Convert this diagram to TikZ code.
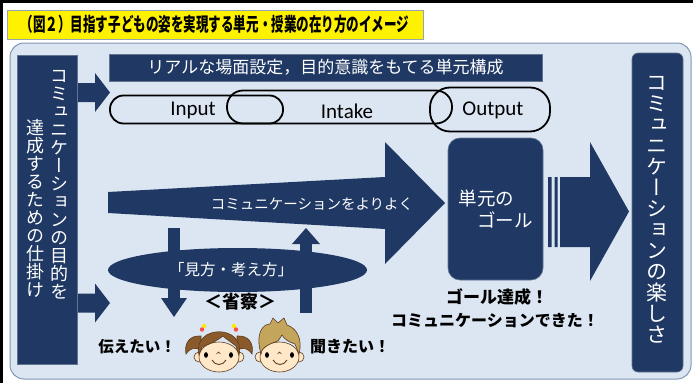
\documentclass[tikz,border=0pt]{standalone}
\usepackage{fontspec}
\usetikzlibrary{positioning, shapes.geometric}

\setmainfont{Noto Sans CJK JP}
\newfontfamily\jpfont{Noto Sans CJK JP}
\newfontfamily\jpvert{Noto Sans CJK JP}[RawFeature=+vert]
\newfontfamily\jpnarrow{Noto Sans CJK JP}[FakeStretch=0.66]
\newfontfamily\latinfont{Carlito}
\newcommand{\pxsize}[1]{\fontsize{#1}{#1}\selectfont}

\definecolor{unitnavy}{HTML}{1F3864}
\definecolor{panelblue}{HTML}{DCE6F2}
\definecolor{panelframe}{HTML}{7F97B2}
\definecolor{titleframe}{HTML}{95A3B3}
\definecolor{girlhair}{HTML}{8B5A2B}
\definecolor{boyhair}{HTML}{C4A55C}
\definecolor{skin}{HTML}{FFE8C8}
\definecolor{facebrown}{HTML}{5C3B1E}

\begin{document}
\begin{tikzpicture}[
  x=1pt, y=-1pt,
  every node/.style={inner sep=0pt, outer sep=0pt},
  navybox/.style={fill=unitnavy, draw=unitnavy!70!white, line width=0.6pt},
  stageoval/.style={draw=black, line width=1.8pt},
  stagelabel/.style={font=\latinfont\pxsize{21}},
  vcol/.style={align=center, text=white, font={\jpvert\pxsize{#1}\lineskiplimit=-5pt}},
  shout/.style={font=\jpfont\bfseries\pxsize{#1}},
  faceline/.style={draw=facebrown, line width=0.6pt}
]
  \useasboundingbox (0,0) rectangle (693,383);

  % frame and title
  \draw[line width=3pt] (0,1.5) -- (693,1.5);
  \draw[line width=3pt] (1.5,0) -- (1.5,383);
  \node[fill=yellow, draw=titleframe, line width=1pt, minimum width=416pt, minimum height=29pt,
        font=\jpnarrow\bfseries\pxsize{19}] (title) at (215,24.5)
        {（図２）目指す子どもの姿を実現する単元・授業の在り方のイメージ};

  % panel
  \draw[fill=panelblue, draw=panelframe, line width=1pt, rounded corners=14pt] (10,43) rectangle (691,379);

  % left column: the device
  \node[navybox, minimum width=60pt, minimum height=309pt] (aim) at (47,209.5) {};
  \node[vcol=18] (aimtop) at (59,185) {コ\\ミ\\ュ\\ニ\\ケ\\ー\\シ\\ョ\\ン\\の\\目\\的\\を};
  \node[vcol=18] (aimbottom) at (36,208) {達\\成\\す\\る\\た\\め\\の\\仕\\掛\\け};

  % right column
  \node[navybox, rounded corners=6pt, minimum width=51pt, minimum height=319pt] (joy) at (657.5,212.5) {};
  \node[vcol=21] (joytext) at (657,210) {コ\\ミ\\ュ\\ニ\\ケ\\ー\\シ\\ョ\\ン\\の\\楽\\し\\さ};

  % unit plan band
  \node[navybox, minimum width=433pt, minimum height=27pt, text=white, font=\jpfont\pxsize{17}] (setting)
        at (325.5,67.5) {リアルな場面設定，目的意識をもてる単元構成};

  % small arrows out of the left column
  \foreach \yc in {92.5,303}
    \fill[unitnavy] (78,\yc-9.5) -- (95,\yc-9.5) -- (95,\yc-19.5) -- (110,\yc)
                    -- (95,\yc+19.5) -- (95,\yc+9.5) -- (78,\yc+9.5) -- cycle;

  % Input / Intake / Output
  \node[stageoval, rounded corners=13.5pt, minimum width=173pt, minimum height=28pt] (input) at (196.5,109.5) {};
  \node[stageoval, rounded corners=16pt, minimum width=225pt, minimum height=33pt] (intake) at (339.5,107) {};
  \node[stageoval, rounded corners=20pt, minimum width=120pt, minimum height=44pt] (output) at (490,109.5) {};
  \node[stagelabel] (inputlabel) at (193,110) {Input};
  \node[stagelabel] (intakelabel) at (347,111) {Intake};
  \node[stagelabel] (outputlabel) at (493,110) {Output};

  % widening arrow
  \fill[unitnavy] (108,192) -- (385,177) -- (385,142) -- (445,203) -- (385,264) -- (385,229) -- (108,213) -- cycle;
  \node[text=white, font=\jpfont\pxsize{14.5}] (better) at (312,204) {コミュニケーションをよりよく};

  % unit goal
  \node[navybox, rounded corners=12pt, minimum width=95pt, minimum height=142pt, text=white, align=left,
        font=\jpfont\fontsize{18.5}{22}\selectfont] (goal) at (495.5,209) {単元の\\　ゴール};
  \fill[unitnavy] (548,177) rectangle (551.5,247) (554.5,177) rectangle (557.5,247);
  \fill[unitnavy] (560,177) -- (590,177) -- (590,142) -- (629,211.5) -- (590,281) -- (590,247) -- (560,247) -- cycle;

  % ways of seeing, with the two arrows
  \fill[unitnavy] (168,228) rectangle (180,299);
  \fill[unitnavy] (161,298) -- (187,298) -- (174,317) -- cycle;
  \fill[unitnavy] (300,243) rectangle (312,313);
  \fill[unitnavy] (292,244) -- (320,244) -- (306,228) -- cycle;
  \node[ellipse, fill=unitnavy, minimum width=259pt, minimum height=44pt] (view) at (237.5,270) {};
  \node[text=white, font=\jpfont\pxsize{15.5}] (viewtext) at (231,270) {「見方・考え方」};

  \node[shout=18] (reflect) at (240,302) {＜省察＞};
  \node[shout=15.5] (tell) at (137,347) {伝えたい！};
  \node[shout=16] (hear) at (350,347) {聞きたい！};
  \node[shout=17] (achieved) at (497,297) {ゴール達成！};
  \node[shout=16] (achievedcomm) at (495,321) {コミュニケーションできた！};

  % girl
  \fill[girlhair, faceline] (201,336) .. controls (189,335) and (184,344) .. (186,354)
        .. controls (190,348) and (195,347) .. (201,350) -- cycle;
  \fill[girlhair, faceline] (237,336) .. controls (249,335) and (254,344) .. (252,354)
        .. controls (248,348) and (243,347) .. (237,350) -- cycle;
  \fill[skin, faceline] (199,357) circle (5);
  \fill[skin, faceline] (239,357) circle (5);
  \fill[skin, faceline] (219,357) ellipse [x radius=20, y radius=15];
  \fill[girlhair, faceline] (199,355) .. controls (192,324) and (246,324) .. (239,355) -- (236,346)
        .. controls (231,342) and (226,339) .. (223,336) .. controls (217,341) and (209,344) .. (202,347) -- cycle;
  \fill[yellow!90!orange] (204,326) circle (2.2);
  \fill[red!70] (202,329.5) circle (2.2);
  \fill[yellow!90!orange] (234,326) circle (2.2);
  \fill[red!70] (236,329.5) circle (2.2);
  \fill (206,355) ellipse [x radius=2, y radius=2.8];
  \fill (231,355) ellipse [x radius=2, y radius=2.8];
  \draw[facebrown, line width=0.6pt] (216.5,354) .. controls (217.5,351.5) and (219.5,351.5) .. (220.5,354);
  \draw[facebrown, line width=0.9pt] (212,360) .. controls (215,366) and (223,366) .. (226,360);

  % boy
  \fill[skin, faceline] (260,357) circle (5);
  \fill[skin, faceline] (299,357) circle (5);
  \fill[skin, faceline] (279.5,357) ellipse [x radius=19.5, y radius=15];
  \fill[boyhair, faceline] (261,354) .. controls (255,333) and (263,324) .. (270,324) -- (273,318) -- (278,323)
        -- (284,318) -- (287,325) .. controls (296,328) and (303,338) .. (299,354) -- (295,344)
        .. controls (289,342) and (284,339) .. (282,335) -- (278,341) .. controls (272,343) and (266,345) .. (262,350) -- cycle;
  \fill (267,355) ellipse [x radius=2, y radius=2.8];
  \fill (292,355) ellipse [x radius=2, y radius=2.8];
  \draw[facebrown, line width=0.6pt] (277.5,354) .. controls (278.5,351.5) and (280.5,351.5) .. (281.5,354);
  \draw[facebrown, line width=0.9pt] (273,360) .. controls (276,366) and (284,366) .. (287,360);
\end{tikzpicture}
\end{document}
